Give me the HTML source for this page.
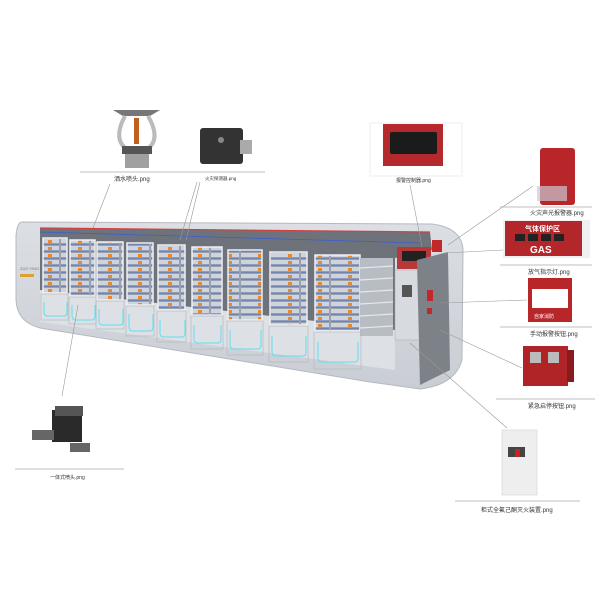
<!DOCTYPE html>
<html><head><meta charset="utf-8"><style>
html,body{margin:0;padding:0;background:#fff;}
svg{display:block}
text{font-family:"Liberation Sans","Noto Sans CJK SC",sans-serif;font-size:6px;fill:#333}
</style></head><body>
<svg width="600" height="600" viewBox="0 0 600 600" xmlns="http://www.w3.org/2000/svg">
<defs>
<pattern id="mod" width="30" height="7" patternUnits="userSpaceOnUse">
<rect width="30" height="7" fill="#9aa0ad"/>
<rect x="1" y="1" width="28" height="5" fill="#cfd3da"/>
<rect x="18" y="2" width="4" height="3" fill="#e8892b"/>
<rect x="1" y="5.5" width="28" height="1" fill="#4a68b0"/>
</pattern>
<linearGradient id="body" x1="0" y1="0" x2="0" y2="1">
<stop offset="0" stop-color="#dcdfe4"/><stop offset="1" stop-color="#c9cdd4"/>
</linearGradient>
</defs>

<path d="M22,222 L432,224 Q462,228 463,250 L462,360 Q455,385 420,389 L370,382 L40,328 Q17,322 16,300 L16,236 Q17,222 22,222 Z" fill="url(#body)" stroke="#b5b9c0" stroke-width="1"/>
<path d="M40,228 L430,232 L432,250 L395,258 L395,340 L40,300 Z" fill="#6e737b"/>
<path d="M40,228 L430,232" stroke="#d04040" stroke-width="1.2"/>
<path d="M40,232 L420,243" stroke="#3a5ed0" stroke-width="0.8"/>
<path d="M40,290 L395,330 L395,370 L40,322 Z" fill="#dde0e5"/>
<g stroke="#eef0f3" stroke-width="1.5">
<rect x="43" y="238" width="24" height="55" fill="url(#mod)"/>
<rect x="70" y="240" width="25" height="56" fill="url(#mod)"/>
<rect x="97" y="242" width="26" height="58" fill="url(#mod)"/>
<rect x="127" y="243" width="26" height="62" fill="url(#mod)"/>
<rect x="158" y="245" width="27" height="65" fill="url(#mod)"/>
<rect x="192" y="247" width="30" height="68" fill="url(#mod)"/>
<rect x="228" y="250" width="34" height="70" fill="url(#mod)"/>
<rect x="270" y="252" width="37" height="73" fill="url(#mod)"/>
<rect x="315" y="255" width="45" height="76" fill="url(#mod)"/>
</g>
<rect x="360" y="258" width="33" height="78" fill="#b8bcc3"/>
<g stroke="#e6e8ec" stroke-width="1.2"><line x1="360" y1="268" x2="393" y2="266"/><line x1="360" y1="280" x2="393" y2="278"/><line x1="360" y1="292" x2="393" y2="290"/><line x1="360" y1="304" x2="393" y2="302"/><line x1="360" y1="316" x2="393" y2="314"/><line x1="360" y1="328" x2="393" y2="326"/></g>
<!-- lower panels: grey outline + cyan bottom curve -->
<g fill="none" stroke="#b0b4ba" stroke-width="0.6">
<rect x="41" y="294" width="27" height="26"/><rect x="69" y="297" width="27" height="27"/><rect x="96" y="301" width="28" height="28"/><rect x="126" y="306" width="28" height="30"/><rect x="157" y="311" width="29" height="31"/><rect x="191" y="316" width="32" height="33"/><rect x="227" y="321" width="36" height="34"/><rect x="269" y="326" width="39" height="36"/><rect x="314" y="332" width="47" height="37"/>
</g>
<g fill="none" stroke="#5fe0f0" stroke-width="1">
<path d="M44,302 v10 q0,4 4,4 h16 q3,0 3,-4 v-10"/><path d="M72,305 v11 q0,4 4,4 h16 q3,0 3,-4 v-11"/><path d="M99,309 v12 q0,4 4,4 h17 q3,0 3,-4 v-12"/><path d="M129,314 v13 q0,4 4,4 h17 q3,0 3,-4 v-13"/><path d="M160,320 v13 q0,4 4,4 h18 q3,0 3,-4 v-13"/><path d="M194,325 v14 q0,4 4,4 h20 q3,0 3,-4 v-14"/><path d="M230,330 v15 q0,4 4,4 h24 q3,0 3,-4 v-15"/><path d="M272,336 v16 q0,4 4,4 h27 q3,0 3,-4 v-16"/><path d="M318,342 v16 q0,4 4,4 h33 q3,0 3,-4 v-16"/>
</g>
<text x="20" y="270" style="font-size:4px;fill:#777">ZUO YING</text>
<rect x="20" y="274" width="14" height="3" fill="#e0a030"/>
<rect x="397" y="247" width="34" height="22" fill="#b8383a"/>
<rect x="402" y="251" width="24" height="10" fill="#222"/>
<rect x="395" y="270" width="32" height="70" fill="#d7dade" stroke="#aaa" stroke-width="0.5"/>
<rect x="402" y="285" width="10" height="12" fill="#555"/>
<path d="M417,260 L448,252 L450,370 L420,385 Z" fill="#7d8188"/>
<rect x="427" y="290" width="6" height="11" fill="#c0282a"/>
<rect x="427" y="308" width="5" height="6" fill="#c0282a"/>
<rect x="432" y="240" width="10" height="12" fill="#c0282a"/>

<g stroke="#999" stroke-width="0.6" fill="none">
<line x1="110" y1="184" x2="93" y2="228"/>
<line x1="200" y1="182" x2="186" y2="240"/>
<line x1="197" y1="182" x2="180" y2="240"/>
<line x1="62" y1="396" x2="78" y2="305"/>
<line x1="410" y1="185" x2="422" y2="247"/>
<line x1="533" y1="186" x2="448" y2="245"/>
<line x1="503" y1="250" x2="445" y2="253"/>
<line x1="527" y1="300" x2="440" y2="303"/>
<line x1="522" y1="368" x2="440" y2="330"/>
<line x1="507" y1="428" x2="410" y2="343"/>
</g>

<path d="M113,110 L160,110 L150,116 L123,116 Z" fill="#777"/>
<path d="M125,116 Q112,140 128,150 M148,116 Q162,140 146,150" stroke="#bbb" stroke-width="4" fill="none"/>
<rect x="134" y="118" width="5" height="26" fill="#c0601e"/>
<rect x="122" y="146" width="30" height="8" fill="#555"/>
<rect x="125" y="154" width="24" height="14" fill="#a0a0a0"/>
<line x1="80" y1="172" x2="190" y2="172" stroke="#aaa" stroke-width="0.8"/>
<text x="114" y="181">洒水喷头.png</text>

<rect x="200" y="128" width="43" height="36" rx="3" fill="#333"/>
<rect x="240" y="140" width="12" height="14" fill="#aaa"/>
<circle cx="221" cy="140" r="3" fill="#888"/>
<line x1="190" y1="172" x2="265" y2="172" stroke="#aaa" stroke-width="0.8"/>
<text x="205" y="180" style="font-size:4.5px">火灾探测器.png</text>

<rect x="370" y="123" width="92" height="53" fill="#fff" stroke="#ddd" stroke-width="0.5"/>
<rect x="383" y="124" width="60" height="42" fill="#b42a2c"/>
<rect x="390" y="132" width="47" height="22" rx="2" fill="#1b1b1b"/>
<text x="396" y="182" style="font-size:5px">报警控制器.png</text>

<rect x="540" y="148" width="35" height="57" rx="3" fill="#b8262a"/>
<rect x="537" y="186" width="30" height="15" fill="#c9c9d0" opacity="0.7"/>
<line x1="500" y1="207" x2="592" y2="207" stroke="#aaa" stroke-width="0.8"/>
<text x="530" y="215">火灾声光报警器.png</text>

<rect x="503" y="220" width="87" height="38" fill="#f0f0f0"/>
<rect x="505" y="221" width="77" height="35" fill="#b3262a"/>
<text x="525" y="231" style="font-size:7px;fill:#fff;font-weight:bold">气体保护区</text>
<rect x="515" y="234" width="10" height="7" fill="#222"/><rect x="528" y="234" width="10" height="7" fill="#222"/><rect x="541" y="234" width="10" height="7" fill="#222"/><rect x="554" y="234" width="10" height="7" fill="#222"/>
<text x="530" y="253" style="font-size:10px;fill:#fff;font-weight:bold">GAS</text>
<line x1="500" y1="265" x2="592" y2="265" stroke="#aaa" stroke-width="0.8"/>
<text x="528" y="274">放气指示灯.png</text>

<rect x="528" y="278" width="44" height="44" fill="#b8262a"/>
<rect x="532" y="289" width="36" height="19" fill="#fff"/>
<text x="534" y="318" style="font-size:5px;fill:#fff">自家消防</text>
<line x1="500" y1="327" x2="592" y2="327" stroke="#aaa" stroke-width="0.8"/>
<text x="530" y="336">手动报警按钮.png</text>

<rect x="523" y="346" width="45" height="40" fill="#b02428"/>
<rect x="567" y="350" width="7" height="32" fill="#8a1a1e"/>
<rect x="530" y="352" width="11" height="11" fill="#bbb"/><rect x="548" y="352" width="11" height="11" fill="#bbb"/>
<line x1="496" y1="399" x2="595" y2="399" stroke="#aaa" stroke-width="0.8"/>
<text x="528" y="408">紧急启停按钮.png</text>

<rect x="502" y="430" width="35" height="65" fill="#eeeeee" stroke="#ccc" stroke-width="0.5"/>
<rect x="508" y="447" width="17" height="10" fill="#444"/>
<rect x="515" y="449" width="5" height="8" fill="#c22"/>
<line x1="455" y1="501" x2="580" y2="501" stroke="#aaa" stroke-width="0.8"/>
<text x="481" y="512">柜式全氟己酮灭火装置.png</text>

<rect x="52" y="410" width="30" height="32" fill="#2a2a2a"/>
<rect x="55" y="406" width="28" height="10" fill="#555"/>
<rect x="32" y="430" width="22" height="10" fill="#666"/>
<rect x="70" y="443" width="20" height="9" fill="#666"/>
<line x1="15" y1="469" x2="124" y2="469" stroke="#aaa" stroke-width="0.8"/>
<text x="50" y="479" style="font-size:5px">一体式喷头.png</text>
</svg>
</body></html>
